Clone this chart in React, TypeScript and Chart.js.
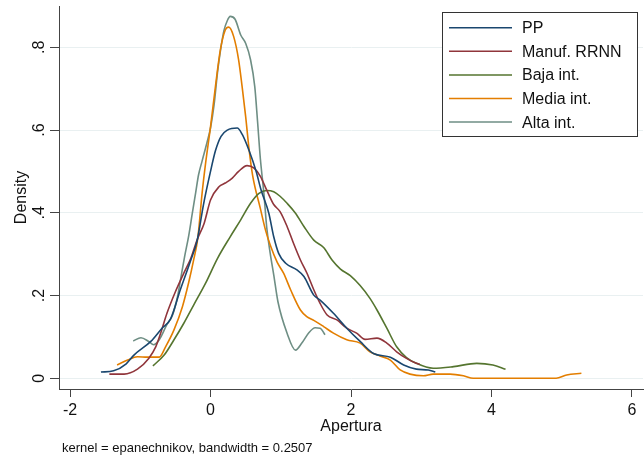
import React, { useEffect, useRef } from 'react';
import { Chart, registerables } from 'chart.js';

Chart.register(...registerables);

const seriesNames = ['PP', 'Manuf. RRNN', 'Baja int.', 'Media int.', 'Alta int.'];
const seriesColors = ['#1a476f', '#90353b', '#55752f', '#e37e00', '#6e8e84'];

const ppX = [-1.56, -1.38, -1.2, -1.09, -0.85, -0.69, -0.57, -0.43, -0.28, -0.19, -0.1, 0.0, 0.07, 0.15, 0.24, 0.38, 0.45, 0.55, 0.65, 0.72, 0.83, 0.9, 0.97, 1.07, 1.23, 1.33, 1.47, 1.56, 1.75, 1.94, 2.13, 2.32, 2.56, 2.75, 2.93, 3.1, 3.2];
const ppY = [0.015, 0.018, 0.035, 0.056, 0.089, 0.121, 0.143, 0.214, 0.286, 0.333, 0.42, 0.5, 0.55, 0.585, 0.6, 0.605, 0.59, 0.55, 0.5, 0.455, 0.399, 0.342, 0.302, 0.278, 0.262, 0.246, 0.201, 0.189, 0.157, 0.121, 0.089, 0.06, 0.051, 0.032, 0.022, 0.02, 0.015];

const manufX = [-1.44, -1.23, -1.04, -0.88, -0.78, -0.71, -0.62, -0.5, -0.38, -0.28, -0.19, -0.09, 0, 0.12, 0.21, 0.31, 0.4, 0.52, 0.62, 0.71, 0.8, 0.9, 0.99, 1.09, 1.18, 1.28, 1.37, 1.47, 1.56, 1.66, 1.8, 1.94, 2.08, 2.2, 2.37, 2.51, 2.65, 2.79, 2.93, 2.98];
const manufY = [0.01, 0.01, 0.022, 0.048, 0.076, 0.109, 0.157, 0.209, 0.254, 0.29, 0.335, 0.375, 0.431, 0.463, 0.472, 0.484, 0.5, 0.514, 0.508, 0.488, 0.455, 0.42, 0.403, 0.367, 0.327, 0.286, 0.255, 0.214, 0.181, 0.153, 0.141, 0.121, 0.109, 0.094, 0.097, 0.085, 0.064, 0.048, 0.036, 0.034];

const bajaX = [-0.82, -0.66, -0.52, -0.38, -0.24, -0.07, 0.1, 0.28, 0.43, 0.57, 0.69, 0.8, 0.9, 0.99, 1.09, 1.21, 1.33, 1.47, 1.61, 1.73, 1.85, 1.99, 2.13, 2.27, 2.37, 2.51, 2.65, 2.79, 2.93, 3.17, 3.46, 3.79, 4.02, 4.2];
const bajaY = [0.03, 0.056, 0.093, 0.133, 0.177, 0.23, 0.29, 0.342, 0.383, 0.423, 0.447, 0.454, 0.451, 0.44, 0.423, 0.399, 0.367, 0.334, 0.316, 0.286, 0.264, 0.248, 0.224, 0.193, 0.165, 0.121, 0.076, 0.05, 0.036, 0.024, 0.028, 0.036, 0.032, 0.022];

const mediaX = [-1.33, -1.18, -1.04, -0.9, -0.73, -0.64, -0.52, -0.4, -0.31, -0.24, -0.18, -0.12, -0.07, 0, 0.07, 0.14, 0.21, 0.26, 0.33, 0.4, 0.45, 0.5, 0.55, 0.6, 0.71, 0.78, 0.85, 0.95, 1.04, 1.14, 1.28, 1.37, 1.47, 1.61, 1.75, 1.94, 2.13, 2.27, 2.41, 2.56, 2.7, 2.84, 3.03, 3.17, 3.41, 3.6, 3.74, 4.92, 5.07, 5.28];
const mediaY = [0.032, 0.044, 0.052, 0.051, 0.051, 0.076, 0.117, 0.173, 0.232, 0.286, 0.34, 0.447, 0.52, 0.608, 0.705, 0.794, 0.842, 0.849, 0.826, 0.77, 0.705, 0.633, 0.552, 0.49, 0.41, 0.36, 0.322, 0.28, 0.254, 0.214, 0.165, 0.149, 0.14, 0.125, 0.109, 0.093, 0.085, 0.064, 0.054, 0.044, 0.02, 0.01, 0.006, 0.01, 0.01, 0.006, 0, 0, 0.008, 0.012];

const altaX = [-1.1, -0.99, -0.88, -0.81, -0.73, -0.62, -0.54, -0.47, -0.42, -0.37, -0.31, -0.26, -0.21, -0.17, -0.12, -0.05, 0.0, 0.05, 0.1, 0.14, 0.19, 0.24, 0.28, 0.35, 0.43, 0.5, 0.57, 0.63, 0.67, 0.71, 0.76, 0.8, 0.85, 0.9, 0.96, 1.09, 1.21, 1.3, 1.4, 1.49, 1.56, 1.63];
const altaY = [0.09, 0.098, 0.089, 0.081, 0.093, 0.13, 0.153, 0.197, 0.245, 0.293, 0.345, 0.398, 0.45, 0.492, 0.525, 0.57, 0.605, 0.66, 0.74, 0.79, 0.84, 0.865, 0.875, 0.868, 0.83, 0.81, 0.77, 0.705, 0.62, 0.53, 0.447, 0.365, 0.302, 0.25, 0.185, 0.109, 0.068, 0.085, 0.11, 0.122, 0.121, 0.105];

const seriesX = [ppX, manufX, bajaX, mediaX, altaX];
const seriesY = [ppY, manufY, bajaY, mediaY, altaY];

const xTicks = [-2, 0, 2, 4, 6];
const xTickLabels = ['-2', '0', '2', '4', '6'];
const yTicks = [0, 0.2, 0.4, 0.6, 0.8];
const yTickLabels = ['0', '.2', '.4', '.6', '.8'];

const xTitle = 'Apertura';
const yTitle = 'Density';
const noteText = 'kernel = epanechnikov, bandwidth = 0.2507';

const FONT = '"Liberation Sans", Arial, sans-serif';
const AXIS_COLOR = '#444444';
const GRID_COLOR = '#e9f0f1';
const TEXT_COLOR = '#111111';

const overlayPlugin = {
  id: 'stataOverlay',
  afterDraw(chart: any) {
    const ctx = chart.ctx;
    const ys = chart.scales.y;
    ctx.save();
    ctx.fillStyle = TEXT_COLOR;
    ctx.font = `16px ${FONT}`;
    ctx.textAlign = 'center';
    ctx.textBaseline = 'middle';
    yTicks.forEach((v, i) => {
      const py = ys.getPixelForValue(v);
      ctx.save();
      ctx.translate(40, py);
      ctx.rotate(-Math.PI / 2);
      ctx.fillText(yTickLabels[i], 0, 0);
      ctx.restore();
    });
    ctx.font = `13px ${FONT}`;
    ctx.textAlign = 'left';
    ctx.textBaseline = 'alphabetic';
    ctx.fillText(noteText, 62, 452);
    const bx = 442.5, by = 12.5, bw = 195, bh = 124;
    ctx.fillStyle = '#ffffff';
    ctx.fillRect(bx, by, bw, bh);
    ctx.strokeStyle = '#333333';
    ctx.lineWidth = 1;
    ctx.strokeRect(bx, by, bw, bh);
    ctx.font = `16px ${FONT}`;
    ctx.textBaseline = 'middle';
    chart.data.datasets.forEach((ds: any, i: number) => {
      const cy = 27.7 + i * 23.6;
      ctx.strokeStyle = ds.borderColor;
      ctx.lineWidth = 1.5;
      ctx.beginPath();
      ctx.moveTo(449, cy);
      ctx.lineTo(512, cy);
      ctx.stroke();
      ctx.fillStyle = TEXT_COLOR;
      ctx.fillText(ds.label, 522, cy + 1);
    });
    ctx.restore();
  },
};

export default function App() {
  const canvasRef = useRef<HTMLCanvasElement | null>(null);

  useEffect(() => {
    document.body.style.margin = '0';
    const canvas = canvasRef.current;
    if (!canvas) return;
    const datasets = seriesNames.map((name, s) => ({
      label: name,
      data: seriesX[s].map((x, i) => ({ x, y: seriesY[s][i] })),
      borderColor: seriesColors[s],
      backgroundColor: seriesColors[s],
      borderWidth: 1.6,
      pointRadius: 0,
      fill: false,
      cubicInterpolationMode: 'monotone' as const,
    }));
    const chart = new Chart(canvas, {
      type: 'line',
      data: { datasets },
      plugins: [overlayPlugin],
      options: {
        animation: false,
        responsive: false,
        devicePixelRatio: 1,
        layout: { padding: { top: 6, right: 1, left: 0, bottom: 0 } },
        plugins: { legend: { display: false }, tooltip: { enabled: false } },
        scales: {
          x: {
            type: 'linear',
            min: -2.157,
            max: 6.157,
            afterBuildTicks: (scale: any) => {
              scale.ticks = xTicks.map((v) => ({ value: v }));
            },
            afterFit: (scale: any) => {
              scale.height = 73;
            },
            ticks: {
              autoSkip: false,
              maxRotation: 0,
              minRotation: 0,
              padding: 4,
              color: TEXT_COLOR,
              font: { family: FONT, size: 16 },
              callback: (v: any) => {
                const idx = xTicks.indexOf(Number(v));
                return idx >= 0 ? xTickLabels[idx] : '';
              },
            },
            grid: {
              display: true,
              drawOnChartArea: false,
              drawTicks: true,
              tickLength: 8,
              tickColor: AXIS_COLOR,
            },
            border: { display: true, color: AXIS_COLOR, width: 1 },
            title: {
              display: true,
              text: xTitle,
              color: TEXT_COLOR,
              font: { family: FONT, size: 16 },
              padding: { top: 0, bottom: 26 },
            },
          },
          y: {
            type: 'linear',
            min: -0.026,
            max: 0.9,
            afterBuildTicks: (scale: any) => {
              scale.ticks = yTicks.map((v) => ({ value: v }));
            },
            afterFit: (scale: any) => {
              scale.width = 59;
            },
            ticks: { display: false },
            grid: {
              display: true,
              drawOnChartArea: true,
              color: GRID_COLOR,
              lineWidth: 1,
              drawTicks: true,
              tickLength: 9,
              tickColor: AXIS_COLOR,
            },
            border: { display: true, color: AXIS_COLOR, width: 1 },
            title: {
              display: true,
              text: yTitle,
              color: TEXT_COLOR,
              font: { family: FONT, size: 16 },
              padding: { top: 12, bottom: 0 },
            },
          },
        },
      },
    });
    return () => chart.destroy();
  }, []);

  return (
    <canvas
      ref={canvasRef}
      width={644}
      height={462}
      style={{ display: 'block', width: '644px', height: '462px' }}
    />
  );
}
